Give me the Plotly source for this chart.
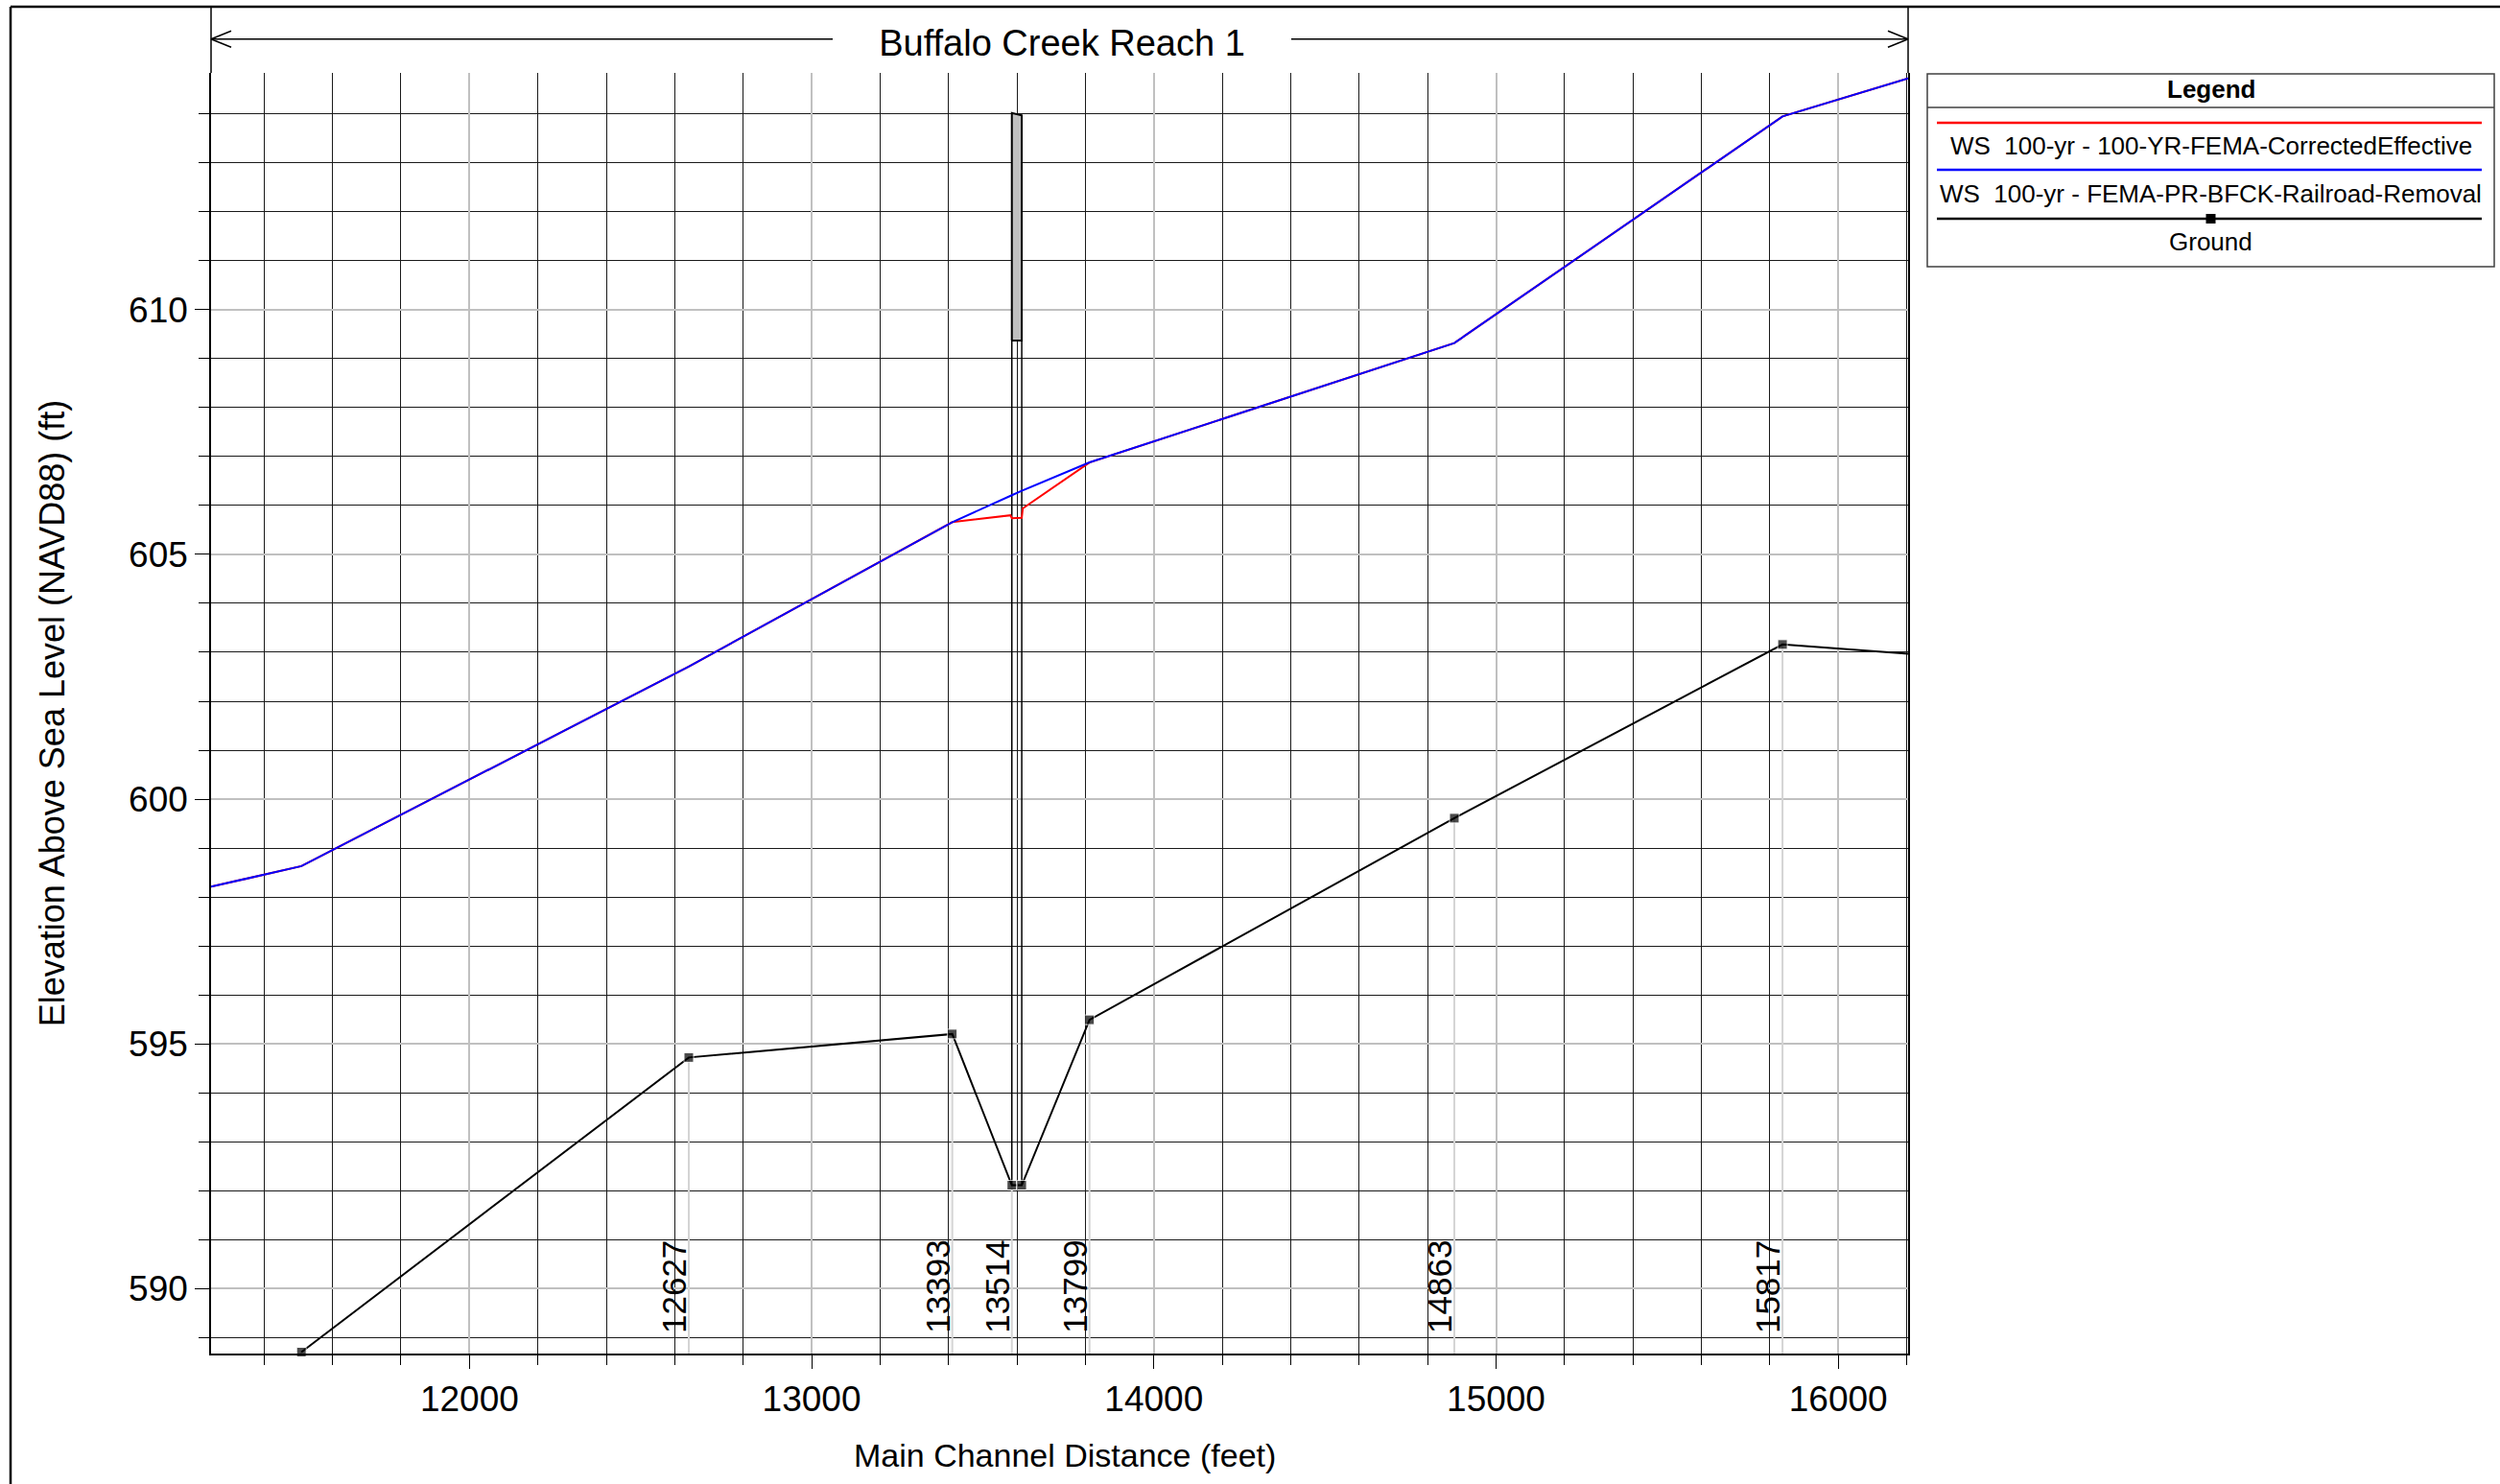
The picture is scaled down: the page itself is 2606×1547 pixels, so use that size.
import plotly.graph_objects as go

TITLE   = "Buffalo Creek Reach 1"
X_LABEL = "Main Channel Distance (feet)"
Y_LABEL = "Elevation Above Sea Level (NAVD88) (ft)"

X_RANGE = [11245, 16204]
Y_RANGE = [588.67, 614.84]
X_TICKS = [12000, 13000, 14000, 15000, 16000]
Y_TICKS = [590, 595, 600, 605, 610]

NAME_EFF    = "WS  100-yr - 100-YR-FEMA-CorrectedEffective"
NAME_PR     = "WS  100-yr - FEMA-PR-BFCK-Railroad-Removal"
NAME_GROUND = "Ground"

WS_EFF_X = [11245, 11509, 12641, 13411, 13581, 13585, 13614, 13617, 13812, 14878, 15837, 16204]
WS_EFF_Y = [598.21, 598.63, 602.71, 605.66, 605.80, 605.74, 605.75, 605.94, 606.88, 609.32, 613.95, 614.73]

WS_PR_X = [11245, 11509, 12641, 13411, 13585, 13614, 13812, 14878, 15837, 16204]
WS_PR_Y = [598.21, 598.63, 602.71, 605.66, 606.21, 606.30, 606.88, 609.32, 613.95, 614.73]

GROUND_X = [11509, 12641, 13411, 13585, 13614, 13812, 14878, 15837, 16204]
GROUND_Y = [588.70, 594.72, 595.20, 592.11, 592.11, 595.49, 599.61, 603.16, 602.97]

STATION_X      = [12641, 13411, 13585, 13812, 14878, 15837]
STATION_LABELS = ["12627", "13393", "13514", "13799", "14863", "15817"]
DROP_X         = [11509] + STATION_X

BRIDGE_X    = [13585, 13614]
BRIDGE_HIGH = [614.02, 613.97]
BRIDGE_LOW  = [609.37, 609.37]

# ─── Style ───────────────────────────────────────────────────────────────────
C_EFF    = "#FF0000"
C_PR     = "#0000FF"
C_GROUND = "#000000"
C_MAJOR  = "#C0C0C0"
C_MINOR  = "#1A1A1A"
C_DROP   = "#D4D4D4"
FONT     = "Liberation Sans, Arial, sans-serif"

W, H = 2606, 1547
PLOT_L, PLOT_R, PLOT_T, PLOT_B = 220, 1989, 76, 1411


def px(x):
    return (x - PLOT_L) / (PLOT_R - PLOT_L)


def py(y):
    return (PLOT_B - y) / (PLOT_B - PLOT_T)


def line(x0, y0, x1, y1, color="#000000", width=1.5):
    return dict(type="line", xref="paper", yref="paper",
                x0=px(x0), y0=py(y0), x1=px(x1), y1=py(y1),
                line=dict(color=color, width=width), layer="above")


fig = go.Figure()

# lignes de rappel des sections
ground_at = dict(zip(GROUND_X, GROUND_Y))
for sx in DROP_X:
    fig.add_trace(go.Scatter(
        x=[sx, sx], y=[ground_at[sx], Y_RANGE[0]], mode="lines",
        line=dict(color=C_DROP, width=2), showlegend=False, hoverinfo="skip",
    ))

# pont : tablier + culées
fig.add_trace(go.Scatter(
    x=[BRIDGE_X[0], BRIDGE_X[0], BRIDGE_X[1], BRIDGE_X[1], BRIDGE_X[0]],
    y=[BRIDGE_LOW[0], BRIDGE_HIGH[0], BRIDGE_HIGH[1], BRIDGE_LOW[1], BRIDGE_LOW[0]],
    mode="lines", fill="toself", fillcolor="#C0C0C0",
    line=dict(color="#000000", width=2), showlegend=False, hoverinfo="skip",
))
for bx, lo in zip(BRIDGE_X, BRIDGE_LOW):
    fig.add_trace(go.Scatter(
        x=[bx, bx], y=[ground_at[bx], lo], mode="lines",
        line=dict(color="#000000", width=1.5), showlegend=False, hoverinfo="skip",
    ))

fig.add_trace(go.Scatter(
    x=WS_EFF_X, y=WS_EFF_Y, name=NAME_EFF, mode="lines",
    line=dict(color=C_EFF, width=2), showlegend=False,
))
fig.add_trace(go.Scatter(
    x=WS_PR_X, y=WS_PR_Y, name=NAME_PR, mode="lines",
    line=dict(color=C_PR, width=2), showlegend=False,
))
fig.add_trace(go.Scatter(
    x=GROUND_X, y=GROUND_Y, name=NAME_GROUND, mode="lines+markers",
    line=dict(color=C_GROUND, width=2),
    marker=dict(symbol="square", color=C_GROUND,
                size=[10] * (len(GROUND_X) - 1) + [0]),
    showlegend=False, cliponaxis=False,
))

# étiquettes des stations
annotations = []
for sx, lab in zip(STATION_X, STATION_LABELS):
    annotations.append(dict(
        x=sx, y=0, xref="x", yref="paper", text=lab, showarrow=False,
        textangle=-90, xanchor="right", yanchor="bottom",
        xshift=6, yshift=19, font=dict(family=FONT, size=35, color="#000000"),
    ))

# légende (boîte dessinée)
LEG_L, LEG_R, LEG_T, LEG_B = 2009, 2600, 77, 278
LEG_CX = (LEG_L + LEG_R) / 2
shapes = [
    dict(type="rect", xref="paper", yref="paper",
         x0=px(LEG_L), x1=px(LEG_R), y0=py(LEG_T), y1=py(LEG_B),
         line=dict(color="#404040", width=1.5), fillcolor="white", layer="above"),
    line(LEG_L, 112, LEG_R, 112, "#404040", 1.5),
]
legend_rows = [(NAME_EFF, C_EFF, 128, 152, False),
               (NAME_PR, C_PR, 177, 202, False),
               (NAME_GROUND, C_GROUND, 228, 252, True)]
for name, col, ly, ty, mark in legend_rows:
    shapes.append(line(2019, ly, 2587, ly, col, 2.5))
    if mark:
        shapes.append(dict(type="rect", xref="paper", yref="paper",
                           x0=px(LEG_CX - 5), x1=px(LEG_CX + 5),
                           y0=py(ly - 5), y1=py(ly + 5),
                           fillcolor=col, line=dict(width=0), layer="above"))
    annotations.append(dict(
        x=px(LEG_CX), y=py(ty), xref="paper", yref="paper", text=name,
        showarrow=False, xanchor="center", yanchor="middle",
        font=dict(family=FONT, size=26, color="#000000"),
    ))
annotations.append(dict(
    x=px(LEG_CX), y=py(93), xref="paper", yref="paper", text="<b>Legend</b>",
    showarrow=False, xanchor="center", yanchor="middle",
    font=dict(family=FONT, size=26, color="#000000"),
))

# titre de l'axe X (légèrement décalé à droite comme l'original)
annotations.append(dict(
    x=px(1110), y=py(1517), xref="paper", yref="paper", text=X_LABEL,
    showarrow=False, xanchor="center", yanchor="middle",
    font=dict(family=FONT, size=34, color="#000000"),
))

# cadre extérieur + flèche du bief
ARROW_Y = 40.7
shapes += [
    line(11, 7, W, 7, "#000000", 2.5),
    line(11, 7, 11, H, "#000000", 2.5),
    line(PLOT_L, 7, PLOT_L, PLOT_T, "#000000", 1.5),
    line(PLOT_R, 7, PLOT_R, PLOT_T, "#000000", 1.5),
    line(PLOT_L, ARROW_Y, 868, ARROW_Y),
    line(1346, ARROW_Y, PLOT_R, ARROW_Y),
    line(PLOT_L, ARROW_Y, PLOT_L + 21, ARROW_Y - 8.5),
    line(PLOT_L, ARROW_Y, PLOT_L + 21, ARROW_Y + 8.5),
    line(PLOT_R, ARROW_Y, PLOT_R - 21, ARROW_Y - 8.5),
    line(PLOT_R, ARROW_Y, PLOT_R - 21, ARROW_Y + 8.5),
]

axis_common = dict(
    ticks="outside", tickcolor="#000000", tickwidth=1,
    showgrid=True, gridcolor=C_MAJOR, gridwidth=2,
    showline=True, linecolor="#000000", linewidth=1.5,
    zeroline=False, tickfont=dict(family=FONT, size=37, color="#000000"),
)

fig.update_layout(
    width=W, height=H,
    margin=dict(l=PLOT_L, r=W - PLOT_R, t=PLOT_T, b=H - PLOT_B),
    plot_bgcolor="white", paper_bgcolor="white",
    font=dict(family=FONT, color="#000000"),
    title=dict(text=TITLE, x=1107 / W, xanchor="center",
               y=1 - 45 / H, yanchor="middle",
               font=dict(family=FONT, size=38, color="#000000")),
    xaxis=dict(
        range=X_RANGE, tickmode="array", tickvals=X_TICKS,
        ticktext=[str(v) for v in X_TICKS], ticklen=14,
        minor=dict(tickmode="linear", tick0=0, dtick=200, ticks="outside",
                   ticklen=10, tickcolor="#000000", showgrid=True,
                   gridcolor=C_MINOR, gridwidth=1),
        **axis_common,
    ),
    yaxis=dict(
        range=Y_RANGE, tickmode="array", tickvals=Y_TICKS,
        ticktext=[str(v) for v in Y_TICKS], ticklen=15, mirror=True,
        minor=dict(tickmode="linear", tick0=0, dtick=1, ticks="outside",
                   ticklen=11, tickcolor="#000000", showgrid=True,
                   gridcolor=C_MINOR, gridwidth=1),
        title=dict(text=Y_LABEL, standoff=56,
                   font=dict(family=FONT, size=36, color="#000000")),
        **axis_common,
    ),
    shapes=shapes,
    annotations=annotations,
)

# pas de marge du <body> : la figure occupe la fenêtre depuis (0, 0)
fig.write_html("out.html", config={"displayModeBar": False},
               post_script="document.body.style.margin='0';")
